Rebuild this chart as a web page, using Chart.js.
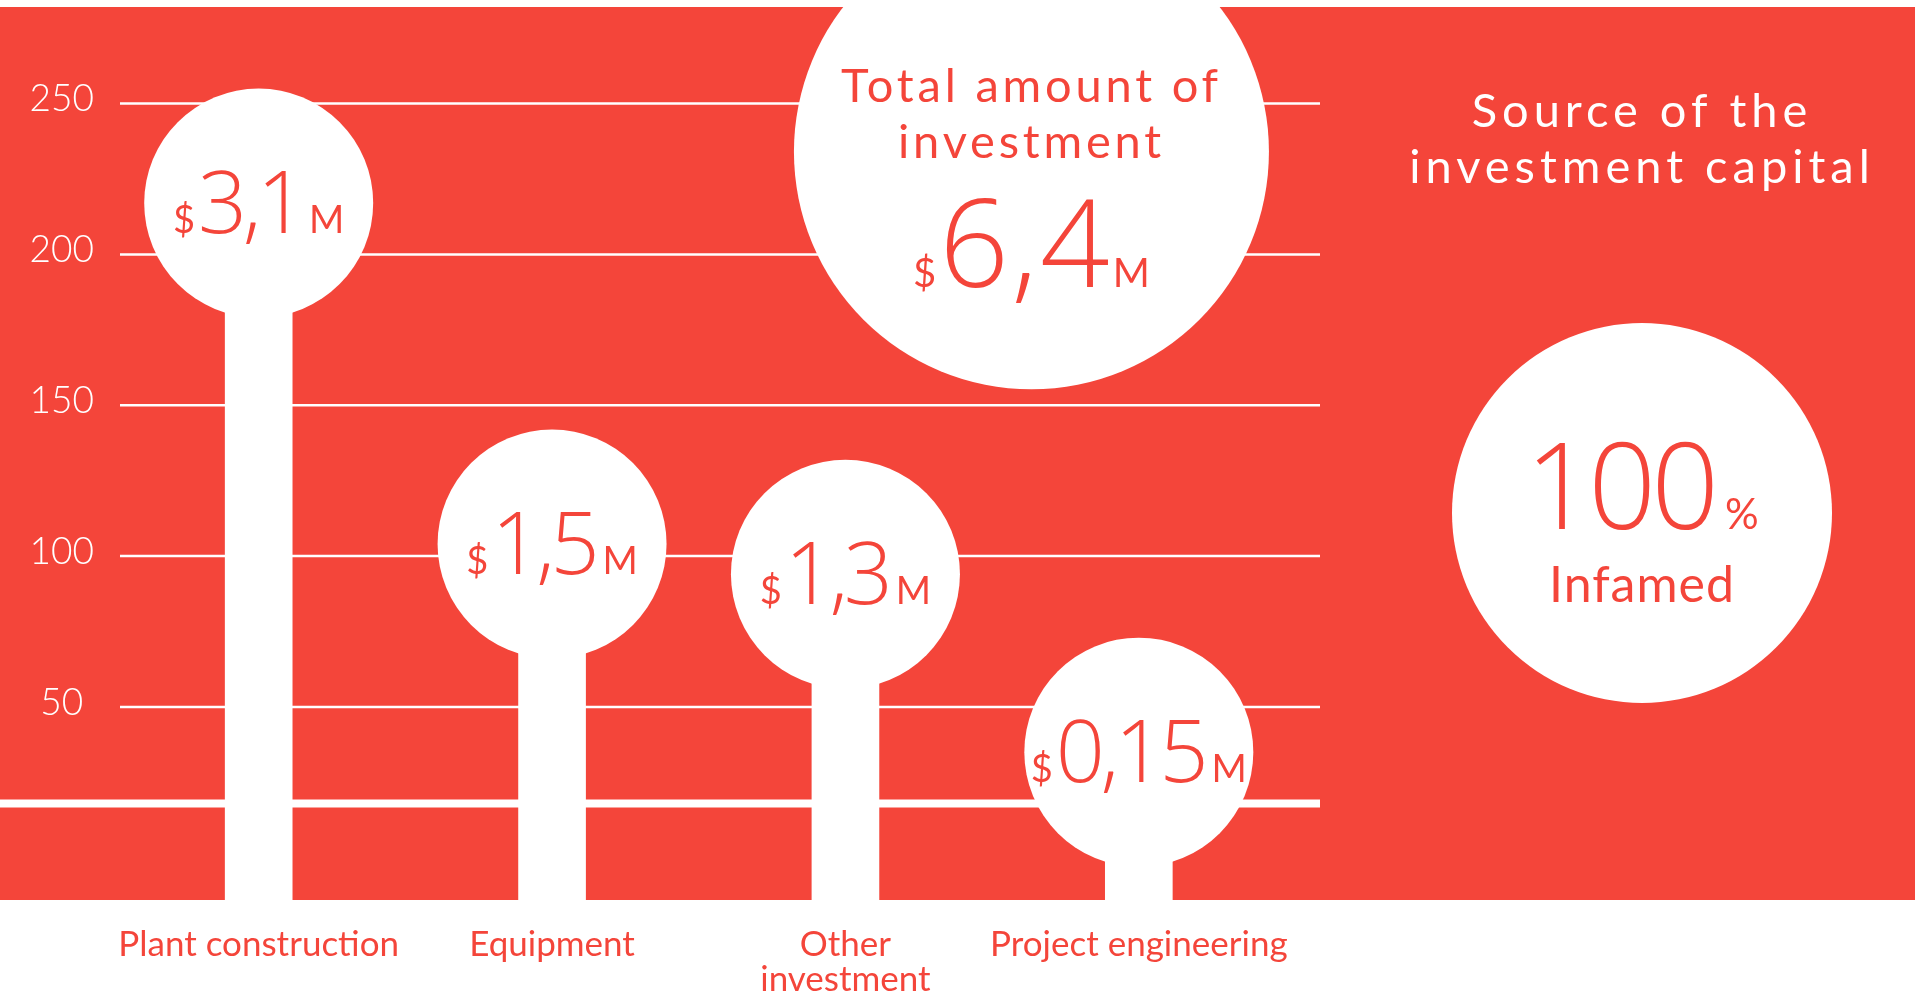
<!DOCTYPE html>
<html>
<head>
<meta charset="utf-8">
<title>Investment</title>
<script src="https://cdn.jsdelivr.net/npm/chart.js@4.4.0/dist/chart.umd.min.js"></script>
<style>
  html, body { margin: 0; padding: 0; background: #fff; }
  #wrap { position: relative; width: 1915px; height: 999px; }
</style>
</head>
<body>
<div id="wrap"><canvas id="investChart"></canvas></div>
<script>
// data
const categories = ["Plant construction", "Equipment", ["Other", "investment"], "Project engineering"];
const barLevels = [217, 104, 94, 35];
const amountLabels = ["3,1", "1,5", "1,3", "0,15"];
const yTicks = [50, 100, 150, 200, 250];
const totalAmount = "6,4";
const totalLevel = 234;
const sourceShare = "100";
const sourceName = "Infamed";

const RED = "#f4453a";
const WHITE = "#ffffff";
const FONT = "Lato";
const NUM_FONT = "'Open Sans'";

// draws text char by char with a fixed extra spacing, returns width
function spaced(ctx, text, x, y, spacing, draw) {
  let w = 0;
  for (const ch of text) {
    if (draw) ctx.fillText(ch, x + w, y);
    w += ctx.measureText(ch).width + spacing;
  }
  return w - spacing;
}

function drawMoney(ctx, cx, baseline, value, bigPx, smallPx, squeeze) {
  ctx.save();
  ctx.fillStyle = RED;
  ctx.textAlign = "left";
  ctx.textBaseline = "alphabetic";
  const small = "400 " + smallPx + "px " + FONT;
  const big = "300 " + bigPx + "px " + NUM_FONT;
  const sp = -bigPx * squeeze;
  ctx.font = small;
  const wD = ctx.measureText("$").width;
  const wM = ctx.measureText("M").width;
  ctx.font = big;
  const wB = spaced(ctx, value, 0, 0, sp, false);
  const gap = 3;
  let x = cx - (wD + gap + wB + gap + wM) / 2;
  ctx.font = small;
  ctx.fillText("$", x, baseline);
  x += wD + gap;
  ctx.font = big;
  spaced(ctx, value, x, baseline, sp, true);
  x += wB + gap;
  ctx.font = small;
  ctx.fillText("M", x, baseline);
  ctx.restore();
}

const decor = {
  id: "decor",
  beforeDraw(chart) {
    const { ctx, chartArea, scales } = chart;
    const y = scales.y;
    ctx.save();
    ctx.fillStyle = RED;
    ctx.fillRect(0, chartArea.top, chart.width, chartArea.bottom - chartArea.top);
    ctx.strokeStyle = WHITE;
    ctx.lineWidth = 2.5;
    yTicks.forEach((v) => {
      const py = y.getPixelForValue(v);
      ctx.beginPath();
      ctx.moveTo(120, py);
      ctx.lineTo(1320, py);
      ctx.stroke();
    });
    // heavy rule above the base
    ctx.lineWidth = 8;
    const py = y.getPixelForValue(18);
    ctx.beginPath();
    ctx.moveTo(0, py);
    ctx.lineTo(1320, py);
    ctx.stroke();
    ctx.restore();
  },
  afterDatasetsDraw(chart) {
    const { ctx, scales } = chart;
    const x = scales.x;
    const y = scales.y;
    const pts = chart.getDatasetMeta(1).data;

    pts.forEach((p, i) => {
      drawMoney(ctx, p.x, p.y + 30, amountLabels[i], 86, 38, 0.05);
    });

    // total circle
    const tx = x.getPixelForValue(2.634);
    const ty = y.getPixelForValue(totalLevel);
    ctx.save();
    ctx.fillStyle = WHITE;
    ctx.beginPath();
    ctx.arc(tx, ty, 237.5, 0, Math.PI * 2);
    ctx.fill();
    ctx.fillStyle = RED;
    ctx.textAlign = "center";
    ctx.textBaseline = "alphabetic";
    ctx.font = "400 47px " + FONT;
    ctx.letterSpacing = "3.8px";
    ctx.fillText("Total amount of", tx, ty - 50);
    ctx.fillText("investment", tx, ty + 6);
    ctx.letterSpacing = "0px";
    ctx.restore();
    drawMoney(ctx, tx, ty + 135, totalAmount, 122, 40, -0.02);

    // source panel
    const sx = 1642;
    ctx.save();
    ctx.fillStyle = WHITE;
    ctx.textAlign = "center";
    ctx.textBaseline = "alphabetic";
    ctx.font = "400 47px " + FONT;
    ctx.letterSpacing = "5px";
    ctx.fillText("Source of the", sx, 127);
    ctx.fillText("investment capital", sx, 183);
    ctx.letterSpacing = "0px";
    ctx.beginPath();
    ctx.arc(sx, 513, 190, 0, Math.PI * 2);
    ctx.fill();
    ctx.fillStyle = RED;
    ctx.textAlign = "left";
    ctx.font = "400 42px " + FONT;
    const wP = ctx.measureText("%").width;
    ctx.font = "300 119px " + NUM_FONT;
    const nsp = -5;
    const wN = spaced(ctx, sourceShare, 0, 0, nsp, false);
    let px = sx - (wN + 6 + wP) / 2;
    spaced(ctx, sourceShare, px, 529, nsp, true);
    ctx.font = "400 42px " + FONT;
    ctx.fillText("%", px + wN + 6, 529);
    ctx.textAlign = "center";
    ctx.font = "400 50px " + FONT;
    ctx.letterSpacing = "1px";
    ctx.fillText(sourceName, sx, 602);
    ctx.letterSpacing = "0px";
    ctx.restore();
  }
};

const ctx = document.getElementById("investChart").getContext("2d");
new Chart(ctx, {
  type: "bar",
  data: {
    labels: categories,
    datasets: [
      {
        label: "stem",
        data: barLevels,
        base: -14,
        backgroundColor: WHITE,
        barThickness: 67,
        borderWidth: 0,
        order: 2
      },
      {
        type: "line",
        label: "amount",
        data: barLevels,
        showLine: false,
        pointRadius: 114.5,
        pointHoverRadius: 114.5,
        pointBackgroundColor: WHITE,
        pointBorderWidth: 0,
        clip: false,
        order: 1
      }
    ]
  },
  options: {
    responsive: true,
    maintainAspectRatio: false,
    animation: false,
    events: [],
    layout: { autoPadding: false, padding: { top: 7, left: 0, right: 629.5, bottom: 0 } },
    plugins: {
      legend: { display: false },
      tooltip: { enabled: false }
    },
    scales: {
      x: {
        grid: { display: false, drawTicks: false },
        border: { display: false },
        ticks: {
          color: RED,
          padding: 27,
          font: { family: FONT, size: 35, weight: 400, lineHeight: 1 },
          maxRotation: 0,
          autoSkip: false
        },
        afterFit: (s) => {
          s.height = 99;
          s.paddingLeft = 0;
          s.paddingRight = 0;
        }
      },
      y: {
        min: -14,
        max: 282,
        grid: { display: false, drawTicks: false },
        border: { display: false },
        afterBuildTicks: (axis) => { axis.ticks = yTicks.map((v) => ({ value: v })); },
        afterFit: (s) => {
          s.width = 112;
          s.paddingTop = 0;
          s.paddingBottom = 0;
        },
        ticks: {
          color: WHITE,
          padding: 18,
          crossAlign: "center",
          labelOffset: -4,
          font: { family: FONT, size: 37, weight: 300 }
        }
      }
    }
  },
  plugins: [decor]
});
</script>
</body>
</html>
